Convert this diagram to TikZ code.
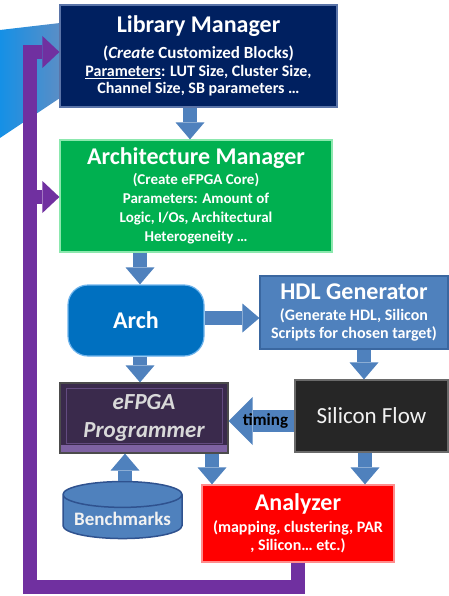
\documentclass[tikz,border=0pt]{standalone}
\usepackage{fontspec}
\setmainfont{Carlito}
\usetikzlibrary{arrows.meta,positioning,shapes.geometric,calc}
\definecolor{navy}{HTML}{002060}
\definecolor{navyedge}{HTML}{5A74A8}
\definecolor{mgrgreen}{HTML}{00B050}
\definecolor{greenedge}{HTML}{8CE8AE}
\definecolor{archblue}{HTML}{0070C0}
\definecolor{archedge}{HTML}{6FB4EC}
\definecolor{steel}{HTML}{4F81BD}
\definecolor{steeledge}{HTML}{3A67A0}
\definecolor{progfill}{HTML}{3A2A4C}
\definecolor{progedge}{HTML}{7E62A2}
\definecolor{siliconfill}{HTML}{262626}
\definecolor{siliconedge}{HTML}{6A6A6A}
\definecolor{anared}{HTML}{FF0000}
\definecolor{anaedge}{HTML}{FF8C8C}
\definecolor{benchedge}{HTML}{2F528F}
\definecolor{loopviolet}{HTML}{7030A0}
\definecolor{decoleft}{HTML}{1590E6}
\definecolor{decoright}{HTML}{5A8EC6}

\tikzset{
  box/.style={draw,line width=1.2pt,align=center,text=white,inner sep=2pt,
    font=\bfseries\fontsize{16}{18.5}\selectfont},
  blockarrow/.style={draw=steel,line width=14pt,-{Triangle[length=17pt,width=29pt,line width=0pt]}},
  looparrow/.style={draw=loopviolet,line width=14pt,line join=miter,-{Triangle[length=17pt,width=32pt,line width=0pt]}},
}
\newcommand{\boxtitle}[1]{{\fontsize{24}{26}\selectfont #1}}

\begin{document}
\begin{tikzpicture}[x=1pt,y=-1pt]
\useasboundingbox (0,0) rectangle (449,596);
% blue corner piece
\shade[left color=decoleft,right color=decoright] (0,30) -- (60,23) -- (60,98) -- (0,138) -- cycle;

\node[box,fill=navy,draw=navyedge,minimum width=277pt,minimum height=102pt,font=\bfseries\fontsize{16}{17.5}\selectfont] (libmgr) at (198.5,56)
  {\boxtitle{Library Manager}\\[9pt]{\fontsize{17}{17.5}\selectfont(\textit{Create} Customized Blocks)}\\\underline{Parameters}: LUT Size, Cluster Size,\\Channel Size, SB parameters \dots};
\node[box,fill=mgrgreen,draw=greenedge,minimum width=272pt,minimum height=112pt,font=\bfseries\fontsize{15}{19}\selectfont] (archmgr) at (196,196)
  {\boxtitle{Architecture Manager}\\[1pt](Create eFPGA Core)\\Parameters: Amount of\\Logic, I/Os, Architectural\\Heterogeneity \dots};
\node[box,fill=archblue,draw=archedge,rounded corners=20pt,minimum width=136pt,minimum height=71pt] (arch) at (136,320.5)
  {\boxtitle{Arch}};
\node[box,fill=steel,draw=steeledge,minimum width=188pt,minimum height=73pt] (hdl) at (354,312.5)
  {\boxtitle{HDL Generator}\\[2pt](Generate HDL, Silicon\\Scripts for chosen target)};
\node[box,fill=progfill,draw=black!70,minimum width=168pt,minimum height=70pt,text=black!15,
  font=\bfseries\itshape\fontsize{23}{28}\selectfont,
  path picture={\fill[progedge] (path picture bounding box.south west) rectangle ([yshift=8pt]path picture bounding box.south east);
    \draw[progedge!60!progfill,line width=1pt] ([shift={(6pt,10pt)}]path picture bounding box.south west) rectangle ([shift={(-6pt,-5pt)}]path picture bounding box.north east);}] (prog) at (144,418)
  {eFPGA\\Programmer};
\node[box,fill=siliconfill,draw=siliconedge,minimum width=153pt,minimum height=72pt,text=black!5,
  font=\fontsize{23}{26}\selectfont] (silicon) at (371.5,416) {Silicon Flow};
\node[cylinder,shape border rotate=90,aspect=0.25,draw=benchedge,fill=steel,line width=1.5pt,
  minimum width=119pt,minimum height=57pt,text=black!5,font=\bfseries\fontsize{19}{22}\selectfont] (bench) at (122.5,519) {Benchmarks};
\node[box,fill=anared,draw=anaedge,minimum width=192pt,minimum height=77pt] (analyzer) at (298,523.5)
  {\boxtitle{Analyzer}\\[3pt](mapping, clustering, PAR\\, Silicon\dots\ etc.)};

% block arrows
\draw[blockarrow] (libmgr.south -| 190,0) -- (archmgr.north -| 190,0);
\draw[blockarrow] (archmgr.south -| 140,0) -- (arch.north -| 140,0);
\draw[blockarrow] (arch.east |- 0,318) -- (hdl.west |- 0,318);
\draw[blockarrow] (hdl.south -| 364,0) -- (silicon.north -| 364,0);
\draw[blockarrow] (arch.south -| 140,0) -- (prog.north -| 140,0);
\draw[draw=steel,line width=22pt,-{Triangle[length=24pt,width=48pt,line width=0pt]}] (silicon.west |- 0,421) -- (prog.east |- 0,421)
  node[midway,text=black,font=\bfseries\fontsize{17}{20}\selectfont,xshift=4pt] (timing) {timing};
\draw[blockarrow] (bench.north -| 125,0) -- (prog.south -| 125,0);
\draw[blockarrow] (prog.south -| 212,0) -- (analyzer.north -| 212,0);
\draw[blockarrow] (silicon.south -| 365,0) -- (analyzer.north -| 365,0);

% feedback loop
\coordinate (loopcorner) at (30,587);
\coordinate (loopmid) at (30,197);
\draw[looparrow] (analyzer.south) |- (loopcorner) |- (libmgr.west |- 0,52);
\draw[looparrow] (loopmid) -- (archmgr.west |- loopmid);
\end{tikzpicture}
\end{document}
